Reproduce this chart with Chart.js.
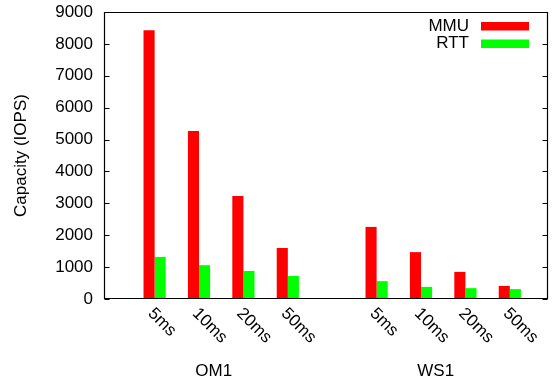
<!DOCTYPE html>
<html>
<head>
<meta charset="utf-8">
<script src="https://cdn.jsdelivr.net/npm/chart.js@4"></script>
<style>
  html, body { margin: 0; padding: 0; background: #fff; }
  #wrap { width: 557px; height: 381px; position: relative; }
</style>
</head>
<body>
<div id="wrap"><canvas id="chart"></canvas></div>
<script>
// data
const groups = ['OM1', 'WS1'];
const categories = ['5ms', '10ms', '20ms', '50ms'];
const mmu = [8430, 5270, 3230, 1600, 2260, 1470, 850, 410];
const rtt = [1320, 1060, 880, 720, 560, 380, 340, 310];
const yTicks = [0, 1000, 2000, 3000, 4000, 5000, 6000, 7000, 8000, 9000];

const FONT = '"Liberation Sans", Arial, sans-serif';
const FS = 17;

// each group takes categories.length slots plus one empty slot
const slot = (g, i) => g * (categories.length + 1) + i;
const xs = [];
const xLabels = [];
groups.forEach((g, gi) => categories.forEach((c, ci) => { xs.push(slot(gi, ci)); xLabels.push(c); }));

const toPoints = arr => arr.map((v, i) => ({ x: xs[i], y: v }));

const framePlugin = {
    id: 'frame',
    afterDraw(chart) {
        const ctx = chart.ctx;
        const a = chart.chartArea;
        const xScale = chart.scales.x;
        const yScale = chart.scales.y;
        ctx.save();
        ctx.strokeStyle = '#000';
        ctx.lineWidth = 1.2;
        const l = Math.round(a.left) + 0.5, r = Math.round(a.right) - 0.5;
        const t = Math.round(a.top) + 0.5, b = Math.round(a.bottom) - 0.5;
        ctx.beginPath();
        ctx.rect(l, t, r - l, b - t);
        // inward ticks on both sides
        yTicks.forEach(v => {
            const y = Math.round(yScale.getPixelForValue(v)) + 0.5;
            ctx.moveTo(l, y); ctx.lineTo(l + 5, y);
            ctx.moveTo(r, y); ctx.lineTo(r - 5, y);
        });
        ctx.stroke();

        // rotated category labels
        ctx.fillStyle = '#000';
        ctx.font = FS + 'px ' + FONT;
        ctx.textAlign = 'left';
        ctx.textBaseline = 'middle';
        xs.forEach((v, i) => {
            const px = xScale.getPixelForValue(v);
            ctx.save();
            ctx.translate(px - 4, a.bottom + 12);
            ctx.rotate(Math.PI / 4);
            ctx.fillText(xLabels[i], 0, 0);
            ctx.restore();
        });

        // group labels
        ctx.textAlign = 'center';
        groups.forEach((g, gi) => {
            const mid = (slot(gi, 0) + slot(gi, categories.length - 1)) / 2 - 0.17;
            ctx.fillText(g, xScale.getPixelForValue(mid), 371);
        });

        // legend, gnuplot style: text right-aligned, swatch on the right
        ctx.textAlign = 'right';
        chart.data.datasets.forEach((ds, i) => {
            const y = 26 + i * 17.5;
            ctx.fillStyle = '#000';
            ctx.fillText(ds.label, 469, y);
            ctx.fillStyle = ds.backgroundColor;
            ctx.fillRect(481, y - 4, 48, 8.5);
        });
        ctx.restore();
    }
};

new Chart(document.getElementById('chart'), {
    type: 'bar',
    data: {
        datasets: [
            { label: 'MMU', data: toPoints(mmu), backgroundColor: '#ff0000' },
            { label: 'RTT', data: toPoints(rtt), backgroundColor: '#00ff00' }
        ]
    },
    options: {
        responsive: true,
        maintainAspectRatio: false,
        animation: false,
        categoryPercentage: 0.5,
        barPercentage: 1.0,
        layout: { padding: { top: 12, right: 9, left: 0, bottom: 0 } },
        plugins: {
            legend: { display: false },
            tooltip: { enabled: false }
        },
        scales: {
            x: {
                type: 'linear',
                min: -1.14,
                max: 8.86,
                offset: false,
                grid: { display: false, drawTicks: false },
                border: { display: false },
                ticks: { display: false },
                afterFit(scale) { scale.height = 82; }
            },
            y: {
                min: 0,
                max: 9000,
                grid: { display: false, drawTicks: false },
                border: { display: false },
                afterBuildTicks(scale) { scale.ticks = yTicks.map(v => ({ value: v })); },
                ticks: {
                    color: '#000',
                    padding: 11,
                    font: { family: FONT, size: FS },
                    callback: v => String(v)
                },
                title: {
                    display: true,
                    text: 'Capacity (IOPS)',
                    color: '#000',
                    font: { family: FONT, size: FS },
                    padding: { top: 11, bottom: 0 }
                },
                afterFit(scale) {
                    scale.width = 104;
                    // labels may overhang the plot edges, like gnuplot
                    scale.paddingTop = 0;
                    scale.paddingBottom = 0;
                }
            }
        }
    },
    plugins: [framePlugin]
});
</script>
</body>
</html>
